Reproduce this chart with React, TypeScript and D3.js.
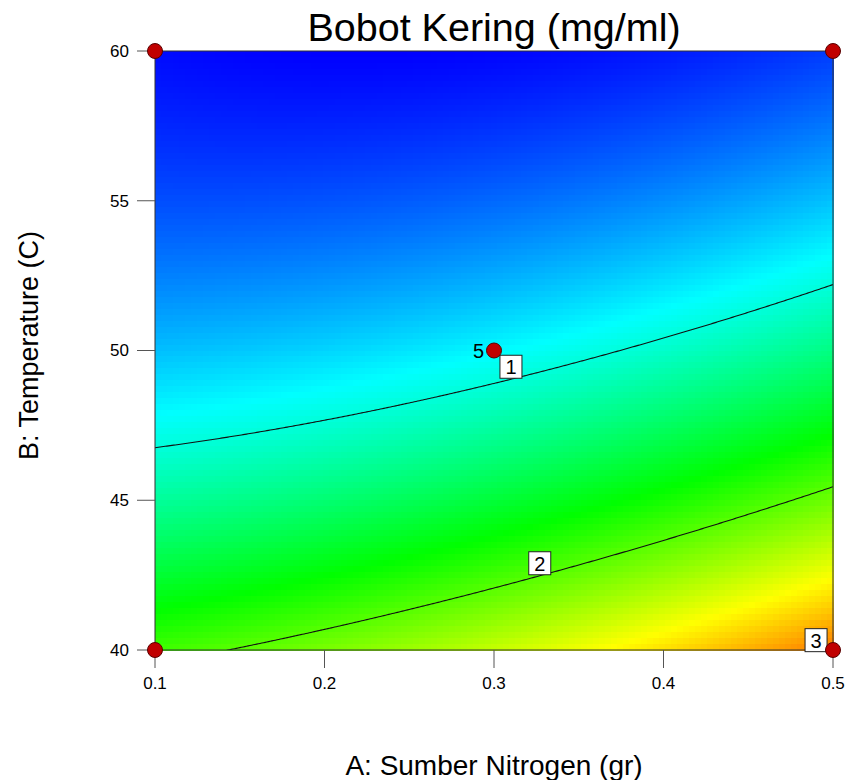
import React from 'react';
import * as d3 from 'd3';

// factor ranges and ticks
const A_TICKS = [0.1, 0.2, 0.3, 0.4, 0.5];
const B_TICKS = [40, 45, 50, 55, 60];

// fitted quadratic model in coded units: b0, A, B, AB, A^2, B^2
const MODEL_COEFS = [0.867, 0.317, -1.175, -0.231, 0.11, 0.32];

// contour levels and where their labels sit (A value)
const CONTOUR_LEVELS = [1, 2, 3];
const LABEL_A = [0.31, 0.327, 0.49];

// design points
const POINT_A = [0.1, 0.5, 0.1, 0.5, 0.3];
const POINT_B = [60, 60, 40, 40, 50];
const POINT_REPS = [1, 1, 1, 1, 5];

// colour ramp
const COLOR_STOPS = [0, 0.88, 1.72, 2.55, 3.45];
const COLOR_RANGE = ['#0000ff', '#00ffff', '#00ff00', '#ffff00', '#ff0000'];

const W = 864;
const H = 780;
const margin = { top: 51, right: 31, bottom: 130, left: 155 };
const COLS = 113;
const ROWS = 100;

const codeA = (a: number) => (a - 0.3) / 0.2;
const codeB = (b: number) => (b - 50) / 10;

function model(a: number, b: number) {
  const [b0, b1, b2, b12, b11, b22] = MODEL_COEFS;
  const x = codeA(a);
  const y = codeB(b);
  return b0 + b1 * x + b2 * y + b12 * x * y + b11 * x * x + b22 * y * y;
}

// solve model(a, b) = level for coded b (smaller root, surface falls with B)
function solveB(a: number, level: number) {
  const [b0, b1, b2, b12, b11, b22] = MODEL_COEFS;
  const x = codeA(a);
  const qa = b22;
  const qb = b2 + b12 * x;
  const qc = b0 + b1 * x + b11 * x * x - level;
  const disc = qb * qb - 4 * qa * qc;
  if (disc < 0) return null;
  const y = (-qb - Math.sqrt(disc)) / (2 * qa);
  if (y < -1.3 || y > 1.3) return null;
  return 50 + y * 10;
}

export default function App() {
  const x = d3.scaleLinear().domain([0.1, 0.5]).range([margin.left, W - margin.right]);
  const y = d3.scaleLinear().domain([40, 60]).range([H - margin.bottom, margin.top]);
  const color = d3.scaleLinear<string>().domain(COLOR_STOPS).range(COLOR_RANGE).clamp(true);

  const cw = (x(0.5) - x(0.1)) / COLS;
  const ch = (y(40) - y(60)) / ROWS;
  const cells: { px: number; py: number; fill: string }[] = [];
  for (let i = 0; i < COLS; i++) {
    for (let j = 0; j < ROWS; j++) {
      const a = 0.1 + ((i + 0.5) / COLS) * 0.4;
      const b = 60 - ((j + 0.5) / ROWS) * 20;
      cells.push({ px: x(0.1) + i * cw, py: y(60) + j * ch, fill: color(model(a, b)) });
    }
  }

  const aSamples = d3.range(0.1, 0.5001, 0.001);
  const line = d3
    .line<[number, number | null]>()
    .defined((d) => d[1] !== null)
    .x((d) => x(d[0]))
    .y((d) => y(d[1] as number));

  const font = 'Liberation Sans, Arial, sans-serif';

  return (
    <svg width={W} height={H} style={{ display: 'block', position: 'absolute', left: 0, top: 0 }} fontFamily={font}>
      <defs>
        <clipPath id="plot-clip">
          <rect x={x(0.1)} y={y(60)} width={x(0.5) - x(0.1)} height={y(40) - y(60)} />
        </clipPath>
      </defs>
      <rect width={W} height={H} fill="#fff" />

      <g shapeRendering="crispEdges">
        {cells.map((c, k) => (
          <rect key={k} x={c.px} y={c.py} width={cw + 0.6} height={ch + 0.6} fill={c.fill} />
        ))}
      </g>

      <g clipPath="url(#plot-clip)">
        {CONTOUR_LEVELS.map((lv) => (
          <path
            key={lv}
            d={line(aSamples.map((a) => [a, solveB(a, lv)] as [number, number | null])) || ''}
            fill="none"
            stroke="#111"
            strokeWidth={1.1}
          />
        ))}
      </g>

      {/* frame */}
      <rect x={x(0.1)} y={y(60)} width={x(0.5) - x(0.1)} height={y(40) - y(60)} fill="none" stroke="#333" strokeWidth={1} />

      {/* left axis */}
      {B_TICKS.map((t) => (
        <g key={t}>
          <line x1={x(0.1) - 18} x2={x(0.1)} y1={y(t)} y2={y(t)} stroke="#555" />
          <text x={x(0.1) - 26} y={y(t)} dy="0.35em" textAnchor="end" fontSize={17}>
            {t}
          </text>
        </g>
      ))}

      {/* bottom axis */}
      {A_TICKS.map((t) => (
        <g key={t}>
          <line x1={x(t)} x2={x(t)} y1={y(40)} y2={y(40) + 18} stroke="#555" />
          <text x={x(t)} y={y(40) + 39} textAnchor="middle" fontSize={17}>
            {t.toFixed(1)}
          </text>
        </g>
      ))}

      {/* contour labels */}
      {CONTOUR_LEVELS.map((lv, k) => {
        const a = LABEL_A[k];
        const b = solveB(a, lv) as number;
        const cx = x(a);
        const bottom = y(b) - 1;
        return (
          <g key={lv}>
            <rect x={cx - 11} y={bottom - 23} width={22} height={23} fill="#fff" stroke="#222" />
            <text x={cx} y={bottom - 4} textAnchor="middle" fontSize={20}>
              {lv}
            </text>
          </g>
        );
      })}

      {/* design points */}
      {POINT_A.map((a, k) => (
        <g key={k}>
          <circle cx={x(a)} cy={y(POINT_B[k])} r={7.5} fill="#c00000" stroke="#5a0000" />
          {POINT_REPS[k] > 1 && (
            <text x={x(a) - 10} y={y(POINT_B[k])} dy="0.35em" textAnchor="end" fontSize={20}>
              {POINT_REPS[k]}
            </text>
          )}
        </g>
      ))}

      {/* titles */}
      <text x={(x(0.1) + x(0.5)) / 2} y={41} textAnchor="middle" fontSize={39.5}>
        Bobot Kering (mg/ml)
      </text>
      <text x={(x(0.1) + x(0.5)) / 2} y={775} textAnchor="middle" fontSize={28}>
        A: Sumber Nitrogen (gr)
      </text>
      <text
        transform={`translate(38, ${(y(40) + y(60)) / 2 - 5}) rotate(-90)`}
        textAnchor="middle"
        fontSize={27}
      >
        B: Temperature (C)
      </text>
    </svg>
  );
}
